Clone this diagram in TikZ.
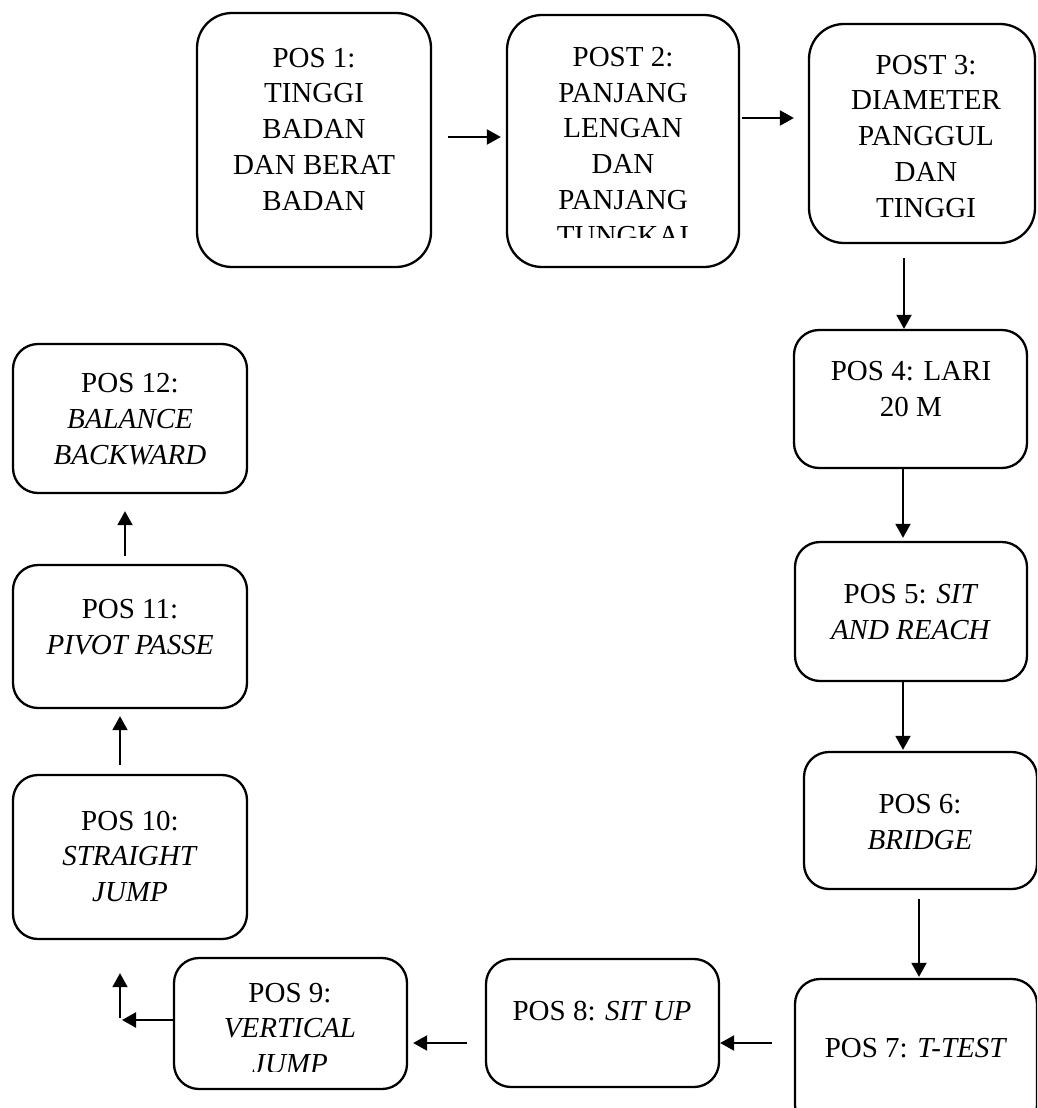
\documentclass[tikz,border=0pt]{standalone}
\usepackage{fontspec}
\setmainfont{Liberation Serif}
\usetikzlibrary{arrows.meta}
\begin{document}
\begin{tikzpicture}[x=1pt,y=-1pt,
  box/.style={draw,line width=2.3pt,rounded corners=#1,inner sep=0pt},
  box/.default=25pt,
  txt/.style={align=center,anchor=base,inner sep=0pt,font=\fontsize{29}{35.7}\selectfont},
  arr/.style={line width=2.2pt,-{Triangle[length=14pt,width=15pt]}},
  varr/.style={line width=1.8pt,-{Triangle[length=14pt,width=15pt]}},
]
\useasboundingbox (0,0) rectangle (1037,1108);
\clip (0,0) rectangle (1037,1108);

% boxes
\node[box=35pt,minimum width=234pt,minimum height=254pt] (b1) at (314,140) {};
\node[box=35pt,minimum width=232pt,minimum height=252pt] (b2) at (623,141) {};
\node[box=35pt,minimum width=226pt,minimum height=219pt] (b3) at (922,133.5) {};
\node[box,minimum width=233pt,minimum height=138pt] (b4) at (910.5,399) {};
\node[box,minimum width=232pt,minimum height=139pt] (b5) at (911,611.5) {};
\node[box,minimum width=233pt,minimum height=137pt] (b6) at (920.5,820.5) {};
\node[box,minimum width=242pt,minimum height=151pt] (b7) at (916,1054.5) {};
\node[box,minimum width=233pt,minimum height=128pt] (b8) at (602.5,1023) {};
\node[box,minimum width=233pt,minimum height=131pt] (b9) at (290.5,1023.5) {};
\node[box,minimum width=234pt,minimum height=164pt] (b10) at (130,857) {};
\node[box,minimum width=234pt,minimum height=143pt] (b11) at (130,636.5) {};
\node[box,minimum width=234pt,minimum height=149pt] (b12) at (130,418.5) {};

% texts (anchored at the baseline of their last line)
\node[txt] (t1) at (314,210) {POS 1:\\TINGGI\\BADAN\\DAN BERAT\\BADAN};
\begin{scope}
  \clip (507,0) rectangle (739,237);
  \node[txt] (t2) at (623,245) {POST 2:\\PANJANG\\LENGAN\\DAN\\PANJANG\\TUNGKAI};
\end{scope}
\node[txt] (t3) at (926,217) {POST 3:\\DIAMETER\\PANGGUL\\DAN\\TINGGI};
\node[txt] (t4) at (911,416) {POS 4: LARI\\20 M};
\node[txt] (t5) at (911,639) {POS 5: \textit{SIT}\\\textit{AND REACH}};
\node[txt] (t6) at (920,849) {POS 6:\\\textit{BRIDGE}};
\node[txt] (t7) at (916,1057) {POS 7: \textit{T-TEST}};
\node[txt] (t8) at (602,1020) {POS 8: \textit{SIT UP}};
\begin{scope}
  \clip (174,950) rectangle (407,1071);
  \node[txt] (t9) at (290,1073.4) {POS 9:\\\textit{VERTICAL}\\\textit{JUMP}};
\end{scope}
\node[txt] (t10) at (130,901.5) {POS 10:\\\textit{STRAIGHT}\\\textit{JUMP}};
\node[txt] (t11) at (130,654) {POS 11:\\\textit{PIVOT PASSE}};
\node[txt] (t12) at (130,464) {POS 12:\\\textit{BALANCE}\\\textit{BACKWARD}};

% connectors
\draw[arr] ([shift={(16,-3)}]b1.east) -- ([shift={(-5,-4)}]b2.west);
\draw[arr] ([shift={(2,-23)}]b2.east) -- ([shift={(-14,-15.5)}]b3.west);
\draw[varr] ([shift={(-18,14)}]b3.south) -- ([shift={(-6.5,0)}]b4.north);
\draw[varr] ([shift={(-7.5,0)}]b4.south) -- ([shift={(-8,-3)}]b5.north);
\draw[varr] ([shift={(-8,0)}]b5.south) -- ([shift={(-17.5,-1)}]b6.north);
\draw[varr] ([shift={(-1.5,9)}]b6.south) -- ([shift={(3,-1)}]b7.north);
\draw[arr] ([shift={(-22,-11.5)}]b7.west) -- ([shift={(0,20)}]b8.east);
\draw[arr] ([shift={(-18,20)}]b8.west) -- ([shift={(5,19.5)}]b9.east);
\coordinate (c9) at (120,1020);
\draw[arr] ([shift={(1,-3.5)}]b9.west) -- ([xshift=2]c9);
\draw[varr] ([yshift=2]c9) -- ([shift={(-10,33)}]b10.south);
\draw[varr] ([shift={(-10,-9)}]b10.north) -- ([shift={(-10,7)}]b11.south);
\draw[varr] ([shift={(-5,-8)}]b11.north) -- ([shift={(-5,17)}]b12.south);
\end{tikzpicture}
\end{document}
